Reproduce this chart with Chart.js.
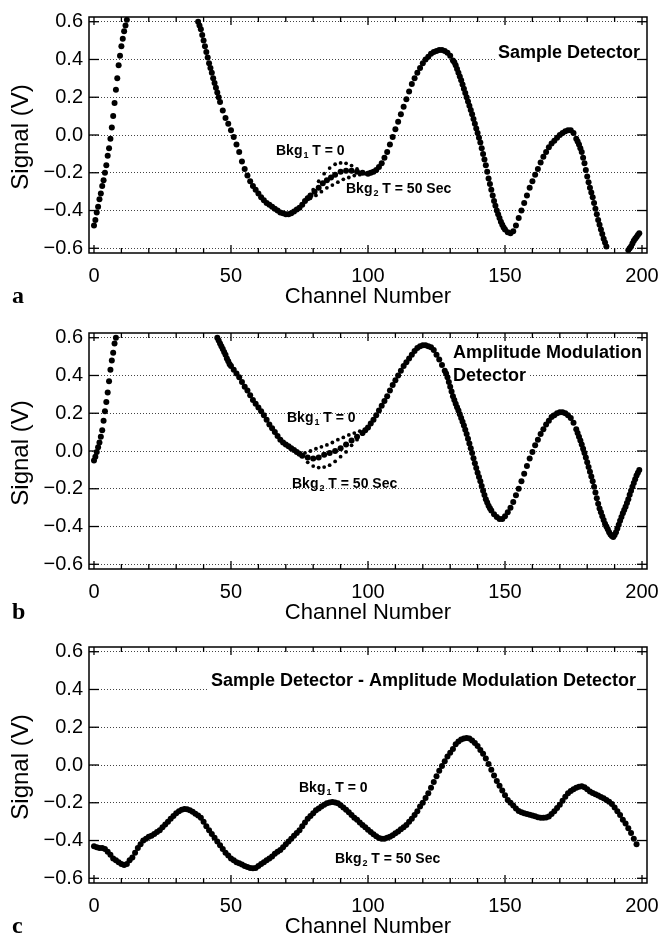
<!DOCTYPE html>
<html>
<head>
<meta charset="utf-8">
<script src="https://cdn.jsdelivr.net/npm/chart.js@4.4.1/dist/chart.umd.min.js"></script>
<style>
  html, body { margin: 0; padding: 0; background: #fff; }
  canvas { position: absolute; left: 0; }
</style>
</head>
<body>
<canvas id="chartA" width="660" height="316" style="top:0px;width:660px;height:316px"></canvas>
<canvas id="chartB" width="660" height="316" style="top:316px;width:660px;height:316px"></canvas>
<canvas id="chartC" width="660" height="308" style="top:630px;width:660px;height:308px"></canvas>
<script>
// tick positions
const xTicks = [0, 50, 100, 150, 200];
const xMinorTicks = [0, 10, 20, 30, 40, 50, 60, 70, 80, 90, 100, 110, 120, 130, 140, 150, 160, 170, 180, 190, 200];
const yTicks = [-0.6, -0.4, -0.2, 0, 0.2, 0.4, 0.6];

// panel a : sample detector
const chanA = [
  0, 0.5, 1, 1.5, 2, 2.5, 3, 3.5, 4, 4.5, 5, 5.5, 6, 6.5, 7, 7.5, 8, 8.5, 9, 9.5, 10, 10.5, 11, 11.5, 12,
  38, 38.5, 39, 39.5, 40, 40.5, 41, 41.5, 42, 42.5, 43, 43.5, 44, 44.5, 45, 45.5, 46,
  47, 48, 49, 50, 51, 52, 53, 54, 55, 56, 57, 58, 59, 60, 61, 62, 63, 64, 65, 66, 67, 68, 69, 70, 71, 72, 73, 74, 75, 76, 77, 78,
  79, 80.5, 82, 83.5, 85, 86.5, 88, 90, 92, 94, 96, 98,
  100, 101, 102, 103, 104, 105, 106, 107, 108, 109, 110, 111, 112, 113, 114, 115, 116, 117, 118, 119, 120, 121, 122, 123, 124, 125, 126, 127, 128, 129, 130,
  131, 131.5, 132, 132.5, 133, 133.5, 134, 134.5, 135, 135.5, 136, 136.5, 137, 137.5, 138, 138.5, 139, 139.5, 140, 140.5,
  141, 141.5, 142, 142.5, 143, 143.5, 144, 144.5, 145, 145.5, 146, 146.5, 147, 147.5, 148, 148.5, 149, 149.5, 150, 151, 152,
  153, 154, 155, 156, 157, 158, 159, 160, 161, 162, 163, 164, 165, 166, 167, 168, 169, 170, 171, 172, 173, 174, 175,
  176, 176.5, 177, 177.5, 178, 178.5, 179, 179.5, 180, 180.5, 181, 181.5, 182, 182.5, 183, 183.5, 184, 184.5, 185, 185.5, 186, 186.5, 187,
  195, 195.5, 196, 196.5, 197, 197.5, 198, 198.5, 199
];
const sigA = [
  -0.48, -0.45, -0.41, -0.38, -0.34, -0.31, -0.27, -0.24, -0.20, -0.16, -0.11, -0.07, -0.02, 0.04, 0.10, 0.17, 0.24, 0.30, 0.37, 0.42, 0.47, 0.51, 0.55, 0.58, 0.61,
  0.60, 0.58, 0.56, 0.53, 0.50, 0.47, 0.44, 0.41, 0.38, 0.355, 0.33, 0.30, 0.275, 0.25, 0.225, 0.20, 0.175,
  0.13, 0.09, 0.06, 0.025, -0.01, -0.05, -0.09, -0.14, -0.18, -0.215, -0.245, -0.27, -0.29, -0.31, -0.33, -0.345, -0.36, -0.37, -0.38, -0.39, -0.40, -0.41, -0.415, -0.42, -0.42, -0.415, -0.405, -0.395, -0.385, -0.37, -0.35, -0.335,
  -0.32, -0.30, -0.28, -0.255, -0.24, -0.225, -0.21, -0.195, -0.19, -0.19, -0.195, -0.20,
  -0.205, -0.20, -0.195, -0.185, -0.17, -0.15, -0.12, -0.09, -0.05, -0.01, 0.03, 0.07, 0.11, 0.15, 0.19, 0.23, 0.27, 0.30, 0.33, 0.355, 0.38, 0.40, 0.415, 0.43, 0.44, 0.445, 0.45, 0.45, 0.445, 0.435, 0.42,
  0.395, 0.385, 0.37, 0.35, 0.33, 0.31, 0.29, 0.268, 0.245, 0.222, 0.2, 0.178, 0.155, 0.132, 0.11, 0.085, 0.06, 0.035, 0.01, -0.015,
  -0.04, -0.07, -0.1, -0.13, -0.16, -0.195, -0.23, -0.26, -0.29, -0.32, -0.35, -0.375, -0.4, -0.42, -0.44, -0.46, -0.475, -0.49, -0.5, -0.515, -0.52,
  -0.51, -0.48, -0.44, -0.40, -0.36, -0.32, -0.28, -0.245, -0.21, -0.18, -0.145, -0.115, -0.09, -0.065, -0.045, -0.03, -0.015, 0.0, 0.01, 0.02, 0.025, 0.025, 0.01,
  -0.02, -0.035, -0.05, -0.07, -0.09, -0.12, -0.15, -0.185, -0.22, -0.25, -0.28, -0.305, -0.33, -0.36, -0.39, -0.42, -0.45, -0.475, -0.5, -0.525, -0.55, -0.57, -0.59,
  -0.61, -0.6, -0.59, -0.575, -0.56, -0.55, -0.54, -0.53, -0.52
];
const bkg1ChanA = [78, 80, 82, 84, 86, 88, 90, 92, 94, 96, 98, 100];
const bkg1A = [-0.33, -0.29, -0.245, -0.205, -0.175, -0.155, -0.148, -0.15, -0.162, -0.18, -0.195, -0.2];
const bkg2ChanA = [79, 81, 83, 85, 87, 89, 91, 93, 95, 97, 99];
const bkg2A = [-0.335, -0.32, -0.30, -0.28, -0.265, -0.25, -0.235, -0.225, -0.215, -0.21, -0.205];

// panel b : amplitude modulation detector
const chanB = [
  0, 0.5, 1, 1.5, 2, 2.5, 3, 3.5, 4, 4.5, 5, 5.5, 6, 6.5, 7, 7.5, 8,
  45, 45.5, 46, 46.5, 47, 47.5, 48, 48.5, 49, 49.5, 50,
  51, 52, 53, 54, 55, 56, 57, 58, 59, 60, 61, 62, 63, 64, 65, 66, 67, 68, 69, 70, 71, 72, 73, 74, 75, 76,
  78, 80, 82, 84, 86, 88, 90, 92, 94, 96, 98,
  99, 100, 101, 102, 103, 104, 105, 106, 107, 108, 109, 110, 111, 112, 113, 114, 115, 116, 117, 118, 119, 120, 121, 122, 123, 124, 125, 126, 127,
  128, 128.5, 129, 129.5, 130, 130.5, 131, 131.5, 132, 132.5, 133, 133.5, 134, 134.5, 135, 135.5, 136, 136.5, 137, 137.5,
  138, 138.5, 139, 139.5, 140, 140.5, 141, 141.5, 142, 142.5, 143, 143.5, 144, 144.5, 145,
  146, 147, 148, 149, 150, 151, 152, 153, 154, 155, 156, 157, 158, 159, 160, 161, 162, 163, 164, 165, 166, 167, 168, 169, 170, 171, 172, 173, 174, 175, 176,
  176.5, 177, 177.5, 178, 178.5, 179, 179.5, 180, 180.5, 181, 181.5, 182, 182.5, 183, 183.5, 184, 184.5, 185, 185.5, 186,
  186.5, 187, 187.5, 188, 188.5, 189, 189.5, 190, 190.5, 191, 191.5, 192, 192.5, 193, 193.5, 194, 194.5, 195, 195.5, 196,
  196.5, 197, 197.5, 198, 198.5, 199
];
const sigB = [
  -0.05, -0.03, -0.005, 0.02, 0.045, 0.075, 0.11, 0.16, 0.21, 0.26, 0.31, 0.37, 0.43, 0.48, 0.52, 0.57, 0.60,
  0.60, 0.585, 0.57, 0.555, 0.54, 0.525, 0.51, 0.49, 0.475, 0.46, 0.45,
  0.43, 0.41, 0.39, 0.365, 0.34, 0.32, 0.295, 0.27, 0.25, 0.23, 0.21, 0.19, 0.165, 0.14, 0.12, 0.10, 0.08, 0.06, 0.045, 0.035, 0.025, 0.015, 0.005, -0.005, -0.015, -0.025,
  -0.035, -0.04, -0.035, -0.02, -0.01, 0.0, 0.015, 0.035, 0.055, 0.075, 0.095,
  0.11, 0.125, 0.145, 0.165, 0.19, 0.215, 0.24, 0.265, 0.29, 0.32, 0.35, 0.375, 0.40, 0.425, 0.45, 0.47, 0.49, 0.51, 0.53, 0.545, 0.555, 0.56, 0.56, 0.555, 0.55, 0.535, 0.51, 0.485, 0.455,
  0.425, 0.41, 0.39, 0.365, 0.34, 0.315, 0.29, 0.27, 0.25, 0.232, 0.215, 0.195, 0.175, 0.155, 0.135, 0.112, 0.09, 0.065, 0.04, 0.015,
  -0.01, -0.038, -0.065, -0.09, -0.115, -0.138, -0.16, -0.185, -0.21, -0.233, -0.255, -0.273, -0.29, -0.303, -0.315,
  -0.335, -0.35, -0.36, -0.36, -0.345, -0.325, -0.30, -0.27, -0.235, -0.20, -0.16, -0.12, -0.08, -0.04, -0.005, 0.03, 0.06, 0.09, 0.115, 0.14, 0.16, 0.18, 0.19, 0.2, 0.205, 0.205, 0.2, 0.19, 0.175, 0.15, 0.115,
  0.095, 0.075, 0.055, 0.035, 0.012, -0.01, -0.035, -0.06, -0.085, -0.11, -0.135, -0.16, -0.19, -0.22, -0.25, -0.28, -0.305, -0.325, -0.345, -0.365,
  -0.385, -0.4, -0.415, -0.43, -0.442, -0.45, -0.455, -0.445, -0.43, -0.41, -0.39, -0.37, -0.35, -0.33, -0.312, -0.295, -0.275, -0.255, -0.232, -0.21,
  -0.19, -0.17, -0.15, -0.13, -0.115, -0.1
];
const bkg1ChanB = [77, 79, 81, 83, 85, 87, 89, 91, 93, 95, 97, 99];
const bkg1B = [-0.01, 0.0, 0.012, 0.022, 0.032, 0.045, 0.06, 0.072, 0.085, 0.095, 0.105, 0.115];
const bkg2ChanB = [78, 80, 82, 84, 86, 88, 90, 92, 94, 96, 98];
const bkg2B = [-0.06, -0.08, -0.088, -0.085, -0.075, -0.055, -0.03, -0.005, 0.03, 0.06, 0.09];

// panel c : sample - amplitude modulation
const chanC = [
  0, 1, 2, 3, 4, 5, 6, 7, 8, 9, 10, 11, 12, 13, 14, 15, 16, 17, 18, 19,
  20, 21, 22, 23, 24, 25, 26, 27, 28, 29, 30, 31, 32, 33, 34, 35, 36, 37, 38, 39,
  40, 41, 42, 43, 44, 45, 46, 47, 48, 49, 50, 51, 52, 53, 54, 55, 56, 57, 58, 59,
  60, 61, 62, 63, 64, 65, 66, 67, 68, 69, 70, 71, 72, 73, 74, 75, 76, 77, 78, 79,
  80, 81, 82, 83, 84, 85, 86, 87, 88, 89, 90, 91, 92, 93, 94, 95, 96, 97, 98, 99,
  100, 101, 102, 103, 104, 105, 106, 107, 108, 109, 110, 111, 112, 113, 114, 115, 116, 117, 118, 119,
  120, 121, 122, 123, 124, 125, 126, 127, 128, 129, 130, 131, 132, 133, 134, 135, 136, 137, 138, 139,
  140, 141, 142, 143, 144, 145, 146, 147, 148, 149, 150, 151, 152, 153, 154, 155, 156, 157, 158, 159,
  160, 161, 162, 163, 164, 165, 166, 167, 168, 169, 170, 171, 172, 173, 174, 175, 176, 177, 178, 179,
  180, 181, 182, 183, 184, 185, 186, 187, 188, 189, 190, 191, 192, 193, 194, 195, 196, 197, 198
];
const sigC = [
  -0.43, -0.435, -0.44, -0.44, -0.445, -0.46, -0.475, -0.495, -0.505, -0.515, -0.525, -0.53, -0.525, -0.505, -0.49, -0.465, -0.44, -0.42, -0.40, -0.39,
  -0.38, -0.375, -0.365, -0.355, -0.345, -0.33, -0.315, -0.30, -0.285, -0.27, -0.255, -0.245, -0.237, -0.233, -0.235, -0.24, -0.248, -0.258, -0.268, -0.28,
  -0.30, -0.325, -0.345, -0.365, -0.385, -0.405, -0.425, -0.445, -0.465, -0.48, -0.495, -0.505, -0.515, -0.52, -0.527, -0.535, -0.54, -0.545, -0.547, -0.545,
  -0.535, -0.525, -0.515, -0.505, -0.495, -0.485, -0.47, -0.46, -0.45, -0.435, -0.42, -0.405, -0.39, -0.375, -0.36, -0.345, -0.325, -0.305, -0.285, -0.27,
  -0.255, -0.24, -0.23, -0.22, -0.21, -0.203, -0.198, -0.196, -0.198, -0.203, -0.213, -0.225, -0.237, -0.25, -0.265, -0.28, -0.29, -0.305, -0.318, -0.33,
  -0.343, -0.355, -0.367, -0.378, -0.387, -0.39, -0.39, -0.385, -0.38, -0.372, -0.362, -0.352, -0.34, -0.33, -0.318, -0.30, -0.285, -0.265, -0.245, -0.22,
  -0.20, -0.175, -0.15, -0.12, -0.09, -0.06, -0.03, -0.005, 0.02, 0.045, 0.065, 0.085, 0.11, 0.125, 0.135, 0.14, 0.143, 0.14, 0.13, 0.117,
  0.10, 0.08, 0.06, 0.035, 0.005, -0.025, -0.055, -0.085, -0.11, -0.135, -0.16, -0.185, -0.20, -0.215, -0.23, -0.243, -0.25, -0.255, -0.26, -0.264,
  -0.268, -0.272, -0.277, -0.28, -0.28, -0.278, -0.273, -0.26, -0.245, -0.228, -0.21, -0.19, -0.168, -0.15, -0.138, -0.128, -0.12, -0.115, -0.113, -0.118,
  -0.128, -0.14, -0.148, -0.155, -0.162, -0.17, -0.176, -0.185, -0.195, -0.207, -0.225, -0.245, -0.265, -0.29, -0.31, -0.335, -0.36, -0.39, -0.42
];

const FONT = '"Liberation Sans", Arial, Helvetica, sans-serif';
Chart.defaults.font.family = FONT;
Chart.defaults.color = '#000';

const PLOT_BOTTOM = 253;

function pts(xs, ys) {
  return xs.map((x, i) => ({ x: x, y: ys[i] }));
}

function dots(xs, ys, r) {
  return {
    data: pts(xs, ys),
    showLine: false,
    pointRadius: r,
    pointBackgroundColor: '#000',
    pointBorderColor: '#000',
    pointBorderWidth: 0
  };
}

function fmtY(v) {
  if (Math.abs(v) < 1e-9) return '0.0';
  return (v < 0 ? '\u2212' : '') + Math.abs(v).toFixed(1);
}

function drawNote(ctx, n) {
  ctx.font = 'bold ' + n.size + 'px ' + FONT;
  ctx.textAlign = 'left';
  ctx.textBaseline = 'alphabetic';
  const w = ctx.measureText(n.text).width;
  const x = n.align === 'right' ? n.x - w : n.x;
  if (n.bg) {
    ctx.fillStyle = '#fff';
    ctx.fillRect(x - 2, n.y - n.size * 0.8, w + 4, n.size * 0.8 + 4);
  }
  ctx.fillStyle = '#000';
  ctx.fillText(n.text, x, n.y);
}

function drawBkg(ctx, n) {
  ctx.textAlign = 'left';
  ctx.textBaseline = 'alphabetic';
  ctx.fillStyle = '#000';
  ctx.font = 'bold ' + n.size + 'px ' + FONT;
  ctx.fillText('Bkg', n.x, n.y);
  let x = n.x + ctx.measureText('Bkg').width + 1;
  const sub = Math.round(n.size * 0.65);
  ctx.font = 'bold ' + sub + 'px ' + FONT;
  ctx.fillText(n.sub, x, n.y + n.size * 0.22);
  x += ctx.measureText(n.sub).width;
  ctx.font = 'bold ' + n.size + 'px ' + FONT;
  ctx.fillText(n.rest, x, n.y);
}

const decorPlugin = {
  id: 'decor',
  beforeDatasetsDraw(chart, args, opts) {
    const ctx = chart.ctx;
    ctx.save();
    (opts.notes || []).forEach(n => n.sub ? drawBkg(ctx, n) : drawNote(ctx, n));
    ctx.restore();
  },
  afterDraw(chart, args, opts) {
    const ctx = chart.ctx;
    const a = chart.chartArea;
    const xs = chart.scales.x, ys = chart.scales.y;
    ctx.save();
    ctx.strokeStyle = '#000';
    ctx.lineWidth = 1.5;
    ctx.strokeRect(a.left, a.top, a.right - a.left, a.bottom - a.top);

    const line = (x1, y1, x2, y2) => {
      ctx.beginPath(); ctx.moveTo(x1, y1); ctx.lineTo(x2, y2); ctx.stroke();
    };
    ctx.lineWidth = 1.3;
    xMinorTicks.forEach(v => {
      const px = xs.getPixelForValue(v);
      const len = v % 50 === 0 ? 8 : 5;
      line(px, a.top, px, a.top + len);
      line(px, a.bottom, px, a.bottom - len);
    });
    yTicks.forEach(v => {
      const py = ys.getPixelForValue(v);
      line(a.left, py, a.left + 10, py);
      line(a.right, py, a.right - 10, py);
    });

    // axis titles
    ctx.fillStyle = '#000';
    ctx.font = '22px ' + FONT;
    ctx.textAlign = 'center';
    ctx.textBaseline = 'alphabetic';
    ctx.fillText('Channel Number', (a.left + a.right) / 2, 303);

    ctx.save();
    ctx.translate(21, (a.top + a.bottom) / 2 + 2);
    ctx.rotate(-Math.PI / 2);
    ctx.font = '24px ' + FONT;
    ctx.textBaseline = 'middle';
    ctx.fillText('Signal (V)', 0, 0);
    ctx.restore();

    ctx.font = 'bold 24px "Liberation Serif", "Times New Roman", serif';
    ctx.textAlign = 'left';
    ctx.fillText(opts.letter, 12, 303);
    ctx.restore();
  }
};

function makeChart(id, datasets, notes, letter) {
  return new Chart(document.getElementById(id), {
    type: 'scatter',
    data: { datasets: datasets },
    options: {
      responsive: false,
      animation: false,
      events: [],
      layout: { padding: { top: 17, right: 13, left: 0, bottom: 0 } },
      plugins: {
        legend: { display: false },
        tooltip: { enabled: false },
        decor: { notes: notes, letter: letter }
      },
      scales: {
        x: {
          type: 'linear',
          min: -1.82,
          max: 201.82,
          grid: { display: false },
          border: { display: false },
          ticks: { padding: 3, font: { size: 20 }, maxRotation: 0, autoSkip: false },
          afterBuildTicks: s => { s.ticks = xTicks.map(v => ({ value: v })); },
          afterFit: s => {
            s.height = s.chart.height - PLOT_BOTTOM;
            s.paddingLeft = 0;
            s.paddingRight = 0;
          }
        },
        y: {
          type: 'linear',
          min: -0.625,
          max: 0.625,
          grid: { color: '#444', lineWidth: 1, drawTicks: false },
          border: { display: false, dash: [1, 2] },
          ticks: { padding: 6, font: { size: 20 }, callback: fmtY },
          afterBuildTicks: s => { s.ticks = yTicks.map(v => ({ value: v })); },
          afterFit: s => {
            s.width = 89;
            s.paddingTop = 0;
            s.paddingBottom = 0;
          }
        }
      }
    },
    plugins: [decorPlugin]
  });
}

makeChart('chartA', [
  dots(chanA, sigA, 3),
  dots(bkg1ChanA, bkg1A, 1.9),
  dots(bkg2ChanA, bkg2A, 1.9)
], [
  { text: 'Sample Detector', x: 640, y: 58, size: 18, align: 'right', bg: true },
  { sub: '1', rest: ' T = 0', x: 276, y: 155, size: 14 },
  { sub: '2', rest: ' T = 50 Sec', x: 346, y: 193, size: 14 }
], 'a');

makeChart('chartB', [
  dots(chanB, sigB, 3),
  dots(bkg1ChanB, bkg1B, 1.9),
  dots(bkg2ChanB, bkg2B, 1.9)
], [
  { text: 'Amplitude Modulation', x: 453, y: 42, size: 18, bg: true },
  { text: 'Detector', x: 453, y: 65, size: 18, bg: true },
  { sub: '1', rest: ' T = 0', x: 287, y: 106, size: 14 },
  { sub: '2', rest: ' T = 50 Sec', x: 292, y: 172, size: 14 }
], 'b');

makeChart('chartC', [
  dots(chanC, sigC, 3)
], [
  { text: 'Sample Detector - Amplitude Modulation Detector', x: 636, y: 56, size: 18, align: 'right', bg: true },
  { sub: '1', rest: ' T = 0', x: 299, y: 162, size: 14 },
  { sub: '2', rest: ' T = 50 Sec', x: 335, y: 233, size: 14 }
], 'c');
</script>
</body>
</html>
